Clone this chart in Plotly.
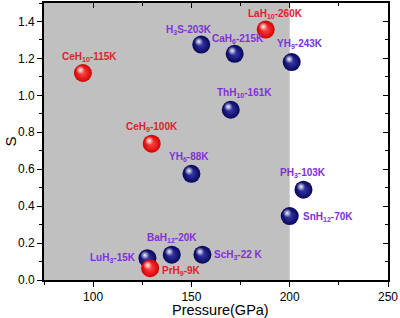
import plotly.graph_objects as go

# ---- data ----
blue_formula = ["H<sub>3</sub>S", "CaH<sub>6</sub>", "YH<sub>9</sub>", "ThH<sub>10</sub>", "YH<sub>6</sub>",
                "PH<sub>3</sub>", "SnH<sub>12</sub>", "BaH<sub>12</sub>", "ScH<sub>3</sub>", "LuH<sub>3</sub>"]
blue_tc = ["203K", "215K", "243K", "161K", "88K", "103K", "70K", "20K", "22 K", "15K"]
blue_pressure = [155, 172, 201, 170, 150, 207, 200, 140, 155.6, 127.6]
blue_s = [1.275, 1.225, 1.18, 0.922, 0.575, 0.489, 0.346, 0.137, 0.137, 0.118]

red_formula = ["LaH<sub>10</sub>", "CeH<sub>10</sub>", "CeH<sub>9</sub>", "PrH<sub>9</sub>"]
red_tc = ["260K", "115K", "100K", "9K"]
red_pressure = [187.8, 94.8, 129.8, 129.0]
red_s = [1.356, 1.121, 0.738, 0.064]

x_range = [75, 250]
y_range = [0, 1.5]
shade_range = [75, 200]

# ---- style ----
BLUE_EDGE, BLUE_CORE = "#06065a", "#3a3ab0"
RED_EDGE, RED_CORE = "#d40000", "#ff4a4a"
BLUE_TXT, RED_TXT = "#8030d8", "#e0202a"
GRAY = "#c0c0c0"
FONT = "Liberation Sans, Arial, sans-serif"

# label offsets (pixels): (xshift, yshift, xanchor)
blue_off = [(-12, 15, "center"), (3, 15, "center"), (8, 18, "center"), (14, 17, "center"),
            (-2, 17, "center"), (0, 17, "center"), (11, -1, "left"), (0, 17, "center"),
            (10, 0, "left"), (-9, 0, "right")]
red_off = [(10, 16, "center"), (7, 16, "center"), (0, 17, "center"), (10, -3, "left")]

W, H = 400, 318
L, R, T, B = 44, 12, 3, 38
px_per_x = (W - L - R) / (x_range[1] - x_range[0])
px_per_y = (H - T - B) / (y_range[1] - y_range[0])
hl_dx, hl_dy = -2.5 / px_per_x, 3.0 / px_per_y

fig = go.Figure()

fig.add_shape(type="rect", xref="x", yref="paper", x0=shade_range[0], x1=shade_range[1],
              y0=0, y1=1, fillcolor=GRAY, line=dict(width=0), layer="below")


def balls(xs, ys, edge, core):
    fig.add_trace(go.Scatter(
        x=xs, y=ys, mode="markers", hoverinfo="skip", showlegend=False,
        marker=dict(size=18, color=edge, line=dict(width=0),
                    gradient=dict(type="radial", color=core))))
    fig.add_trace(go.Scatter(
        x=[v + hl_dx for v in xs], y=[v + hl_dy for v in ys], mode="markers",
        hoverinfo="skip", showlegend=False,
        marker=dict(size=9, color="rgba(255,255,255,0)", line=dict(width=0),
                    gradient=dict(type="radial", color="rgba(255,255,255,0.95)"))))


balls(blue_pressure, blue_s, BLUE_EDGE, BLUE_CORE)
balls(red_pressure, red_s, RED_EDGE, RED_CORE)

annotations = []
for f, tc, x, y, (dx, dy, anc) in zip(blue_formula, blue_tc, blue_pressure, blue_s, blue_off):
    annotations.append(dict(x=x, y=y, xref="x", yref="y", text=f"<b>{f}-{tc}</b>", showarrow=False,
                            xshift=dx, yshift=dy, xanchor=anc, yanchor="middle",
                            font=dict(family=FONT, size=10, color=BLUE_TXT)))
for f, tc, x, y, (dx, dy, anc) in zip(red_formula, red_tc, red_pressure, red_s, red_off):
    annotations.append(dict(x=x, y=y, xref="x", yref="y", text=f"<b>{f}-{tc}</b>", showarrow=False,
                            xshift=dx, yshift=dy, xanchor=anc, yanchor="middle",
                            font=dict(family=FONT, size=10, color=RED_TXT)))

annotations.append(dict(x=0.513, y=0, xref="paper", yref="paper", text="Pressure(GPa)", showarrow=False,
                        yshift=-30, xanchor="center", yanchor="middle",
                        font=dict(family=FONT, size=14.5, color="black")))
annotations.append(dict(x=0, y=0.5, xref="paper", yref="paper", text="S", showarrow=False,
                        xshift=-34, textangle=-90, xanchor="center", yanchor="middle",
                        font=dict(family=FONT, size=15, color="black")))

# invisible trace to hold mirrored axes
fig.add_trace(go.Scatter(x=[x_range[0]], y=[y_range[0]], xaxis="x2", yaxis="y2", mode="markers",
                         marker=dict(opacity=0), hoverinfo="skip", showlegend=False))

axis_common = dict(showgrid=False, zeroline=False, showline=True, linecolor="black", linewidth=1.6,
                   tickcolor="black", tickwidth=1.3, ticklen=5)

fig.update_layout(
    width=W, height=H, margin=dict(l=L, r=R, t=T, b=B),
    paper_bgcolor="white", plot_bgcolor="white",
    font=dict(family=FONT, size=12, color="black"),
    annotations=annotations,
    xaxis=dict(range=x_range, dtick=50, tick0=0, ticks="outside",
               minor=dict(dtick=25, ticks="outside", ticklen=3, tickcolor="black"),
               tickfont=dict(size=12), **axis_common),
    yaxis=dict(range=y_range, dtick=0.2, tick0=0, ticks="outside", tickformat=".1f",
               minor=dict(dtick=0.1, ticks="outside", ticklen=3, tickcolor="black"),
               tickfont=dict(size=12), **axis_common),
    xaxis2=dict(range=x_range, overlaying="x", side="top", dtick=50, tick0=0, ticks="inside",
                showticklabels=False,
                minor=dict(dtick=25, ticks="inside", ticklen=3, tickcolor="black"), **axis_common),
    yaxis2=dict(range=y_range, overlaying="y", side="right", dtick=0.2, tick0=0, ticks="inside",
                showticklabels=False,
                minor=dict(dtick=0.1, ticks="inside", ticklen=3, tickcolor="black"), **axis_common),
)

fig.write_html("out.html", config={"displayModeBar": False},
               post_script="document.body.style.margin='0';document.body.style.padding='0';"
                           "document.body.style.overflow='hidden';")
